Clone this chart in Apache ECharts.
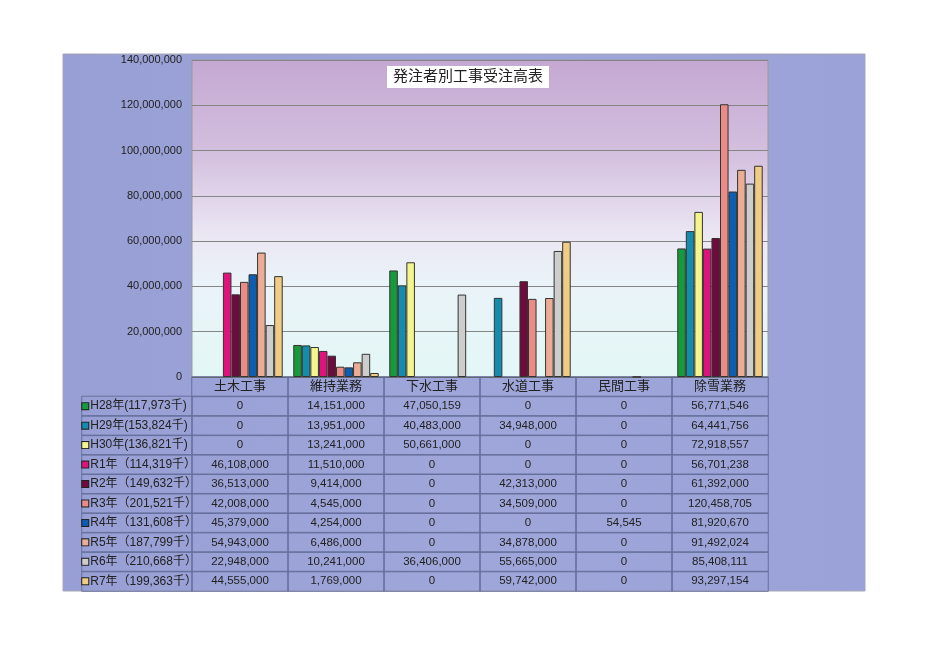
<!DOCTYPE html>
<html>
<head>
<meta charset="utf-8">
<script src="https://cdn.jsdelivr.net/npm/echarts@6/dist/echarts.min.js"></script>
<style>
  html, body { margin: 0; padding: 0; background: #fff; }
  #main { width: 936px; height: 662px; }
</style>
</head>
<body>
<div id="main"></div>
<script>
// 工種（横軸）
var categories = ['土木工事', '維持業務', '下水工事', '水道工事', '民間工事', '除雪業務'];
// 年度名（凡例）
var yearNames = ['H28年(117,973千)', 'H29年(153,824千)', 'H30年(136,821千)', 'R1年（114,319千）', 'R2年（149,632千）',
	'R3年（201,521千）', 'R4年（131,608千）', 'R5年（187,799千）', 'R6年（210,668千）', 'R7年（199,363千）'];
// 各年度の受注高
var h28 = [0, 14151000, 47050159, 0, 0, 56771546];
var h29 = [0, 13951000, 40483000, 34948000, 0, 64441756];
var h30 = [0, 13241000, 50661000, 0, 0, 72918557];
var r1 = [46108000, 11510000, 0, 0, 0, 56701238];
var r2 = [36513000, 9414000, 0, 42313000, 0, 61392000];
var r3 = [42008000, 4545000, 0, 34509000, 0, 120458705];
var r4 = [45379000, 4254000, 0, 0, 54545, 81920670];
var r5 = [54943000, 6486000, 0, 34878000, 0, 91492024];
var r6 = [22948000, 10241000, 36406000, 55665000, 0, 85408111];
var r7 = [44555000, 1769000, 0, 59742000, 0, 93297154];
var yearValues = [h28, h29, h30, r1, r2, r3, r4, r5, r6, r7];
// 縦軸
var yMin = 0, yMax = 140000000, yStep = 20000000;

var colors = ['#179a3b', '#158bae', '#f5f58e', '#df137b', '#6e0c3d', '#e98c85', '#0d5db1', '#ebae95', '#cdcdcd', '#f1cc85'];

var FONT = "'Liberation Sans','Noto Sans CJK JP',sans-serif";
var plotL = 192, plotT = 60, plotW = 576, plotH = 317;
var tblT = plotT + plotH, tblH = 214, rowH = tblH / 11;

function fmt(v) { return v.toLocaleString('en-US'); }

var myChart = echarts.init(document.getElementById('main'));

// 棒グラフ（0 は棒を描かない）
var barSeries = yearNames.map(function(name, i) {
	return {
		name: name,
		type: 'bar',
		xAxisIndex: 0,
		yAxisIndex: 0,
		barGap: '0%',
		barCategoryGap: '11%',
		itemStyle: { color: colors[i], borderColor: '#333', borderWidth: 1 },
		data: yearValues[i].map(function(v) { return v === 0 ? '-' : v; })
	};
});

// データテーブル（見出し行＋数値）
var tableData = [];
categories.forEach(function(c, ci) {
	tableData.push({ value: [ci, 0, 0], name: c });
	yearValues.forEach(function(vals, ri) {
		tableData.push({ value: [ci, ri + 1, vals[ci]] });
	});
});

// 凡例列
var legendData = yearNames.map(function(n, ri) { return { value: [0, ri, 0], name: n }; });
var legendRich = {
	t: { fontSize: 12, color: '#222', fontFamily: FONT, padding: [0, 0, 0, 2] }
};
colors.forEach(function(c, i) {
	legendRich['s' + i] = { backgroundColor: c, borderColor: '#222', borderWidth: 1, width: 6, height: 6 };
});

var option = {
	animation: false,
	backgroundColor: '#fff',
	title: {
		text: '発注者別工事受注高表',
		left: 'center',
		top: 66,
		backgroundColor: '#fff',
		padding: [2, 6],
		textStyle: { fontSize: 15, fontWeight: 'normal', color: '#222', fontFamily: FONT, lineHeight: 18 }
	},
	graphic: [{
		type: 'rect',
		z: -10,
		shape: { x: 63, y: 54, width: 802, height: 537 },
		style: {
			fill: new echarts.graphic.LinearGradient(0, 0, 1, 0, [
				{ offset: 0, color: '#989fd4' },
				{ offset: 0.5, color: '#9fa6da' },
				{ offset: 1, color: '#9ba2d7' }
			]),
			stroke: '#a6a6b6',
			lineWidth: 1
		}
	}],
	grid: [
		{
			left: plotL, top: plotT, width: plotW, height: plotH,
			show: true,
			borderColor: '#9a9a9a',
			borderWidth: 1,
			backgroundColor: new echarts.graphic.LinearGradient(0, 0, 0, 1, [
				{ offset: 0, color: '#c4a8d2' },
				{ offset: 0.3, color: '#d4c0df' },
				{ offset: 0.55, color: '#ebe6f3' },
				{ offset: 0.7, color: '#eaf3f8' },
				{ offset: 1, color: '#e3f7f6' }
			])
		},
		{ left: plotL, top: tblT, width: plotW, height: tblH },
		{ left: 82, top: tblT + rowH, width: plotL - 82, height: rowH * 10 }
	],
	xAxis: [
		{
			gridIndex: 0, type: 'category', data: categories,
			axisLine: { lineStyle: { color: '#666' } },
			axisTick: { show: false },
			axisLabel: { show: false }
		},
		{ gridIndex: 1, type: 'category', data: categories, show: false },
		{ gridIndex: 2, type: 'category', data: [''], show: false }
	],
	yAxis: [
		{
			gridIndex: 0, type: 'value', min: yMin, max: yMax, interval: yStep,
			axisLine: { show: false },
			axisTick: { show: false },
			axisLabel: {
				color: '#222', fontSize: 11, fontFamily: FONT, margin: 10,
				formatter: function(v) { return fmt(v); }
			},
			splitLine: { lineStyle: { color: '#858585', width: 1 } }
		},
		{ gridIndex: 1, type: 'category', data: [''].concat(yearNames), inverse: true, show: false },
		{ gridIndex: 2, type: 'category', data: yearNames, inverse: true, show: false }
	],
	series: barSeries.concat([
		{
			type: 'heatmap',
			xAxisIndex: 1,
			yAxisIndex: 1,
			data: tableData,
			itemStyle: { color: 'rgba(0,0,0,0)', borderColor: '#66709c', borderWidth: 1 },
			emphasis: { disabled: true },
			label: {
				show: true,
				rich: {
					h: { fontSize: 13, color: '#222', fontFamily: FONT },
					n: { fontSize: 11.5, color: '#222', fontFamily: FONT }
				},
				formatter: function(p) {
					if (p.value[1] === 0) return '{h|' + p.name + '}';
					return '{n|' + fmt(p.value[2]) + '}';
				}
			}
		},
		{
			type: 'heatmap',
			xAxisIndex: 2,
			yAxisIndex: 2,
			data: legendData,
			itemStyle: { color: 'rgba(0,0,0,0)', borderColor: '#66709c', borderWidth: 1 },
			emphasis: { disabled: true },
			label: {
				show: true,
				position: 'insideLeft',
				distance: 1,
				rich: legendRich,
				formatter: function(p) {
					return '{s' + p.value[1] + '| }{t|' + p.name + '}';
				}
			}
		}
	])
};
myChart.setOption(option);
</script>
</body>
</html>
